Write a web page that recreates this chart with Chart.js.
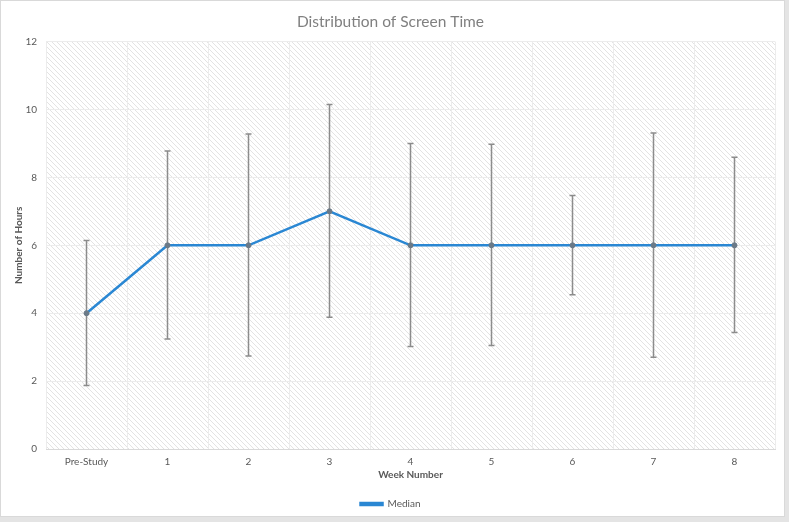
<!DOCTYPE html>
<html>
<head>
<meta charset="utf-8">
<script src="https://cdn.jsdelivr.net/npm/chart.js@4.4.1/dist/chart.umd.min.js"></script>
<style>
  html, body { margin: 0; padding: 0; background: #fff; }
  #wrap { position: relative; width: 789px; height: 522px; }
</style>
</head>
<body>
<div id="wrap"><canvas id="chart" width="789" height="522"></canvas></div>
<script>
// chart data
const weeks = ['Pre-Study', '1', '2', '3', '4', '5', '6', '7', '8'];
const medianHours = [4, 6, 6, 7, 6, 6, 6, 6, 6];
const lowHours = [1.87, 3.24, 2.74, 3.88, 3.02, 3.05, 4.54, 2.70, 3.43];
const highHours = [6.14, 8.78, 9.28, 10.15, 9.0, 8.98, 7.47, 9.31, 8.59];
const yTicks = [0, 2, 4, 6, 8, 10, 12];

const textGray = '#595959';
const fontFamily = 'Lato, "Open Sans", sans-serif';

// hatched plot background
function makeHatch() {
    const c = document.createElement('canvas');
    c.width = 5; c.height = 5;
    const g = c.getContext('2d');
    g.fillStyle = '#ffffff';
    g.fillRect(0, 0, 5, 5);
    g.strokeStyle = '#e3e3e3';
    g.lineWidth = 1;
    g.beginPath();
    g.moveTo(-1, -1); g.lineTo(6, 6);
    g.moveTo(-1, 4); g.lineTo(1, 6);
    g.moveTo(4, -1); g.lineTo(6, 1);
    g.stroke();
    return c;
}

const hatchPlugin = {
    id: 'hatch',
    beforeDraw(chart) {
        const { ctx, chartArea: a } = chart;
        ctx.save();
        ctx.fillStyle = '#ffffff';
        ctx.fillRect(0, 0, chart.width, chart.height);
        ctx.fillStyle = ctx.createPattern(makeHatch(), 'repeat');
        ctx.fillRect(a.left, a.top, a.right - a.left, a.bottom - a.top);
        ctx.restore();
    },
    afterDraw(chart) {
        // outer frame with a soft shadow
        const { ctx } = chart;
        ctx.save();
        ctx.fillStyle = '#e4e4e4';
        ctx.fillRect(0, chart.height - 5, chart.width, 5);
        ctx.fillRect(chart.width - 4, 0, 4, chart.height);
        ctx.strokeStyle = '#d9d9d9';
        ctx.lineWidth = 1;
        ctx.strokeRect(0.5, 0.5, chart.width - 5, chart.height - 6);
        ctx.restore();
    }
};

// vertical error bars drawn through the scales
const errorBarPlugin = {
    id: 'errorBars',
    beforeDatasetsDraw(chart) {
        const { ctx, scales: { x, y } } = chart;
        ctx.save();
        ctx.strokeStyle = '#8c8c8c';
        ctx.lineWidth = 1.5;
        weeks.forEach((w, i) => {
            const px = x.getPixelForValue(i);
            const top = y.getPixelForValue(highHours[i]);
            const bot = y.getPixelForValue(lowHours[i]);
            ctx.beginPath();
            ctx.moveTo(px, top); ctx.lineTo(px, bot);
            ctx.moveTo(px - 3, top); ctx.lineTo(px + 3, top);
            ctx.moveTo(px - 3, bot); ctx.lineTo(px + 3, bot);
            ctx.stroke();
        });
        ctx.restore();
    }
};

new Chart(document.getElementById('chart'), {
    type: 'line',
    data: {
        labels: weeks,
        datasets: [{
            label: 'Median',
            data: medianHours,
            borderColor: '#2a87d3',
            backgroundColor: '#2a87d3',
            borderWidth: 2.5,
            tension: 0,
            pointRadius: 2.5,
            pointBackgroundColor: '#6b7a88',
            pointBorderColor: '#6b7a88',
            pointBorderWidth: 1,
            fill: false
        }]
    },
    options: {
        responsive: false,
        animation: false,
        layout: { padding: { left: 6, right: 14, top: 0, bottom: 3 } },
        plugins: {
            title: {
                display: true,
                text: 'Distribution of Screen Time',
                color: '#808080',
                font: { family: fontFamily, size: 15.5, weight: 'normal' },
                padding: { top: 13, bottom: 10 }
            },
            legend: {
                position: 'bottom',
                labels: {
                    color: textGray,
                    font: { family: fontFamily, size: 10 },
                    boxWidth: 22,
                    boxHeight: 2,
                    padding: 16
                }
            },
            tooltip: { enabled: false }
        },
        scales: {
            x: {
                offset: true,
                afterFit(scale) { scale.height = 34; },
                grid: { color: '#ececec', offset: true, drawTicks: false },
                border: { color: '#d9d9d9' },
                ticks: { color: textGray, font: { family: fontFamily, size: 10 }, padding: 7 },
                title: {
                    display: true, text: 'Week Number', color: textGray,
                    font: { family: fontFamily, size: 10, weight: 'bold' }, padding: { top: 0, bottom: 2 }
                }
            },
            y: {
                min: 0,
                max: 12,
                afterFit(scale) { scale.width = 40; },
                afterBuildTicks(scale) { scale.ticks = yTicks.map(v => ({ value: v })); },
                grid: { color: '#ececec', drawTicks: false },
                border: { display: false },
                ticks: { color: textGray, font: { family: fontFamily, size: 10 }, padding: 9 },
                title: {
                    display: true, text: 'Number of Hours', color: textGray,
                    font: { family: fontFamily, size: 10, weight: 'bold' }, padding: { top: 7, bottom: 0 }
                }
            }
        }
    },
    plugins: [hatchPlugin, errorBarPlugin]
});
</script>
</body>
</html>
